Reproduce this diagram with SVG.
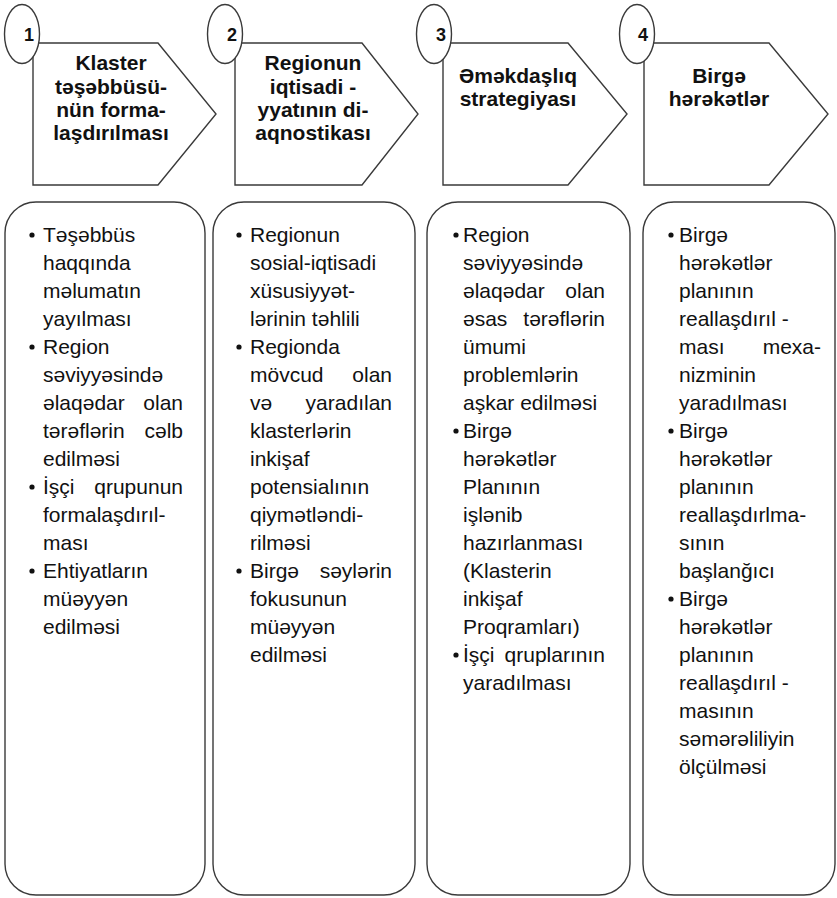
<svg xmlns="http://www.w3.org/2000/svg" width="837" height="898" viewBox="0 0 837 898">
<defs>
<style>
.shape{fill:#fff;stroke:#3a3a3a;stroke-width:1.4}
.num{font-family:"Liberation Sans",Arial,sans-serif;font-weight:bold;font-size:18px;fill:#111;text-anchor:middle}
.head{font-family:"Liberation Sans",Arial,sans-serif;font-weight:bold;font-size:21px;fill:#111;text-anchor:middle}
.body{font-family:"Liberation Sans",Arial,sans-serif;font-size:21px;fill:#111}
.end{text-anchor:end}
.dot{fill:#111}
</style>
</defs>
<rect width="837" height="898" fill="#fff"/>

<g id="step1">
<path class="shape" d="M33,43 H158 L216,114 L158,185 H33 Z"/>
<ellipse class="shape" cx="22" cy="34" rx="17.5" ry="29.5"/>
<text class="num" x="29" y="41">1</text>
<text class="head" x="111" y="70">Klaster</text>
<text class="head" x="111" y="94">təşəbbüsü-</text>
<text class="head" x="111" y="117">nün forma-</text>
<text class="head" x="111" y="140">laşdırılması</text>
</g>

<g id="step2">
<path class="shape" d="M235,43 H362 L418,114 L362,185 H235 Z"/>
<ellipse class="shape" cx="225" cy="34" rx="17.5" ry="29.5"/>
<text class="num" x="232" y="41">2</text>
<text class="head" x="313" y="70">Regionun</text>
<text class="head" x="313" y="94">iqtisadi -</text>
<text class="head" x="313" y="117">yyatının di-</text>
<text class="head" x="313" y="140">aqnostikası</text>
</g>

<g id="step3">
<path class="shape" d="M443,43 H568 L627,114 L568,185 H443 Z"/>
<ellipse class="shape" cx="434" cy="34" rx="17.5" ry="29.5"/>
<text class="num" x="441" y="41">3</text>
<text class="head" x="518" y="83">Əməkdaşlıq</text>
<text class="head" x="518" y="106">strategiyası</text>
</g>

<g id="step4">
<path class="shape" d="M644,43 H769 L828,114 L769,185 H644 Z"/>
<ellipse class="shape" cx="637" cy="34" rx="17.5" ry="29.5"/>
<text class="num" x="643" y="41">4</text>
<text class="head" x="719" y="83">Birgə</text>
<text class="head" x="719" y="106">hərəkətlər</text>
</g>

<g id="box1">
<rect class="shape" x="5" y="202" width="200" height="693" rx="31" ry="31"/>
<circle class="dot" cx="32" cy="235" r="2.6"/>
<circle class="dot" cx="32" cy="347" r="2.6"/>
<circle class="dot" cx="32" cy="487" r="2.6"/>
<circle class="dot" cx="32" cy="571" r="2.6"/>
<text class="body" x="43" y="242">Təşəbbüs</text>
<text class="body" x="43" y="270">haqqında</text>
<text class="body" x="43" y="298">məlumatın</text>
<text class="body" x="43" y="326">yayılması</text>
<text class="body" x="43" y="354">Region</text>
<text class="body" x="43" y="382">səviyyəsində</text>
<text class="body" x="43" y="410">əlaqədar</text><text class="body end" x="183" y="410">olan</text>
<text class="body" x="43" y="438">tərəflərin</text><text class="body end" x="183" y="438">cəlb</text>
<text class="body" x="43" y="466">edilməsi</text>
<text class="body" x="43" y="494">İşçi</text><text class="body end" x="183" y="494">qrupunun</text>
<text class="body" x="43" y="522">formalaşdırıl-</text>
<text class="body" x="43" y="550">ması</text>
<text class="body" x="43" y="578">Ehtiyatların</text>
<text class="body" x="43" y="606">müəyyən</text>
<text class="body" x="43" y="634">edilməsi</text>
</g>

<g id="box2">
<rect class="shape" x="213" y="202" width="202" height="693" rx="31" ry="31"/>
<circle class="dot" cx="239" cy="235" r="2.6"/>
<circle class="dot" cx="239" cy="347" r="2.6"/>
<circle class="dot" cx="239" cy="571" r="2.6"/>
<text class="body" x="250" y="242">Regionun</text>
<text class="body" x="250" y="270">sosial-iqtisadi</text>
<text class="body" x="250" y="298">xüsusiyyət-</text>
<text class="body" x="250" y="326">lərinin təhlili</text>
<text class="body" x="250" y="354">Regionda</text>
<text class="body" x="250" y="382">mövcud</text><text class="body end" x="392" y="382">olan</text>
<text class="body" x="250" y="410">və</text><text class="body end" x="392" y="410">yaradılan</text>
<text class="body" x="250" y="438">klasterlərin</text>
<text class="body" x="250" y="466">inkişaf</text>
<text class="body" x="250" y="494">potensialının</text>
<text class="body" x="250" y="522">qiymətləndi-</text>
<text class="body" x="250" y="550">rilməsi</text>
<text class="body" x="250" y="578">Birgə</text><text class="body end" x="392" y="578">səylərin</text>
<text class="body" x="250" y="606">fokusunun</text>
<text class="body" x="250" y="634">müəyyən</text>
<text class="body" x="250" y="662">edilməsi</text>
</g>

<g id="box3">
<rect class="shape" x="427" y="202" width="203" height="693" rx="31" ry="31"/>
<circle class="dot" cx="456" cy="235" r="2.6"/>
<circle class="dot" cx="456" cy="431" r="2.6"/>
<circle class="dot" cx="456" cy="655" r="2.6"/>
<text class="body" x="463" y="242">Region</text>
<text class="body" x="463" y="270">səviyyəsində</text>
<text class="body" x="463" y="298">əlaqədar</text><text class="body end" x="605" y="298">olan</text>
<text class="body" x="463" y="326">əsas</text><text class="body end" x="605" y="326">tərəflərin</text>
<text class="body" x="463" y="354">ümumi</text>
<text class="body" x="463" y="382">problemlərin</text>
<text class="body" x="463" y="410">aşkar edilməsi</text>
<text class="body" x="463" y="438">Birgə</text>
<text class="body" x="463" y="466">hərəkətlər</text>
<text class="body" x="463" y="494">Planının</text>
<text class="body" x="463" y="522">işlənib</text>
<text class="body" x="463" y="550">hazırlanması</text>
<text class="body" x="463" y="578">(Klasterin</text>
<text class="body" x="463" y="606">inkişaf</text>
<text class="body" x="463" y="634">Proqramları)</text>
<text class="body" x="463" y="662">İşçi</text><text class="body end" x="605" y="662">qruplarının</text>
<text class="body" x="463" y="690">yaradılması</text>
</g>

<g id="box4">
<rect class="shape" x="643" y="202" width="192" height="693" rx="31" ry="31"/>
<circle class="dot" cx="671" cy="235" r="2.6"/>
<circle class="dot" cx="671" cy="431" r="2.6"/>
<circle class="dot" cx="671" cy="599" r="2.6"/>
<text class="body" x="679" y="242">Birgə</text>
<text class="body" x="679" y="270">hərəkətlər</text>
<text class="body" x="679" y="298">planının</text>
<text class="body" x="679" y="326">reallaşdırıl -</text>
<text class="body" x="679" y="354">ması</text><text class="body end" x="821" y="354">mexa-</text>
<text class="body" x="679" y="382">nizminin</text>
<text class="body" x="679" y="410">yaradılması</text>
<text class="body" x="679" y="438">Birgə</text>
<text class="body" x="679" y="466">hərəkətlər</text>
<text class="body" x="679" y="494">planının</text>
<text class="body" x="679" y="522">reallaşdırlma-</text>
<text class="body" x="679" y="550">sının</text>
<text class="body" x="679" y="578">başlanğıcı</text>
<text class="body" x="679" y="606">Birgə</text>
<text class="body" x="679" y="634">hərəkətlər</text>
<text class="body" x="679" y="662">planının</text>
<text class="body" x="679" y="690">reallaşdırıl -</text>
<text class="body" x="679" y="718">masının</text>
<text class="body" x="679" y="746">səmərəliliyin</text>
<text class="body" x="679" y="774">ölçülməsi</text>
</g>

<g id="connectors"></g>
</svg>
